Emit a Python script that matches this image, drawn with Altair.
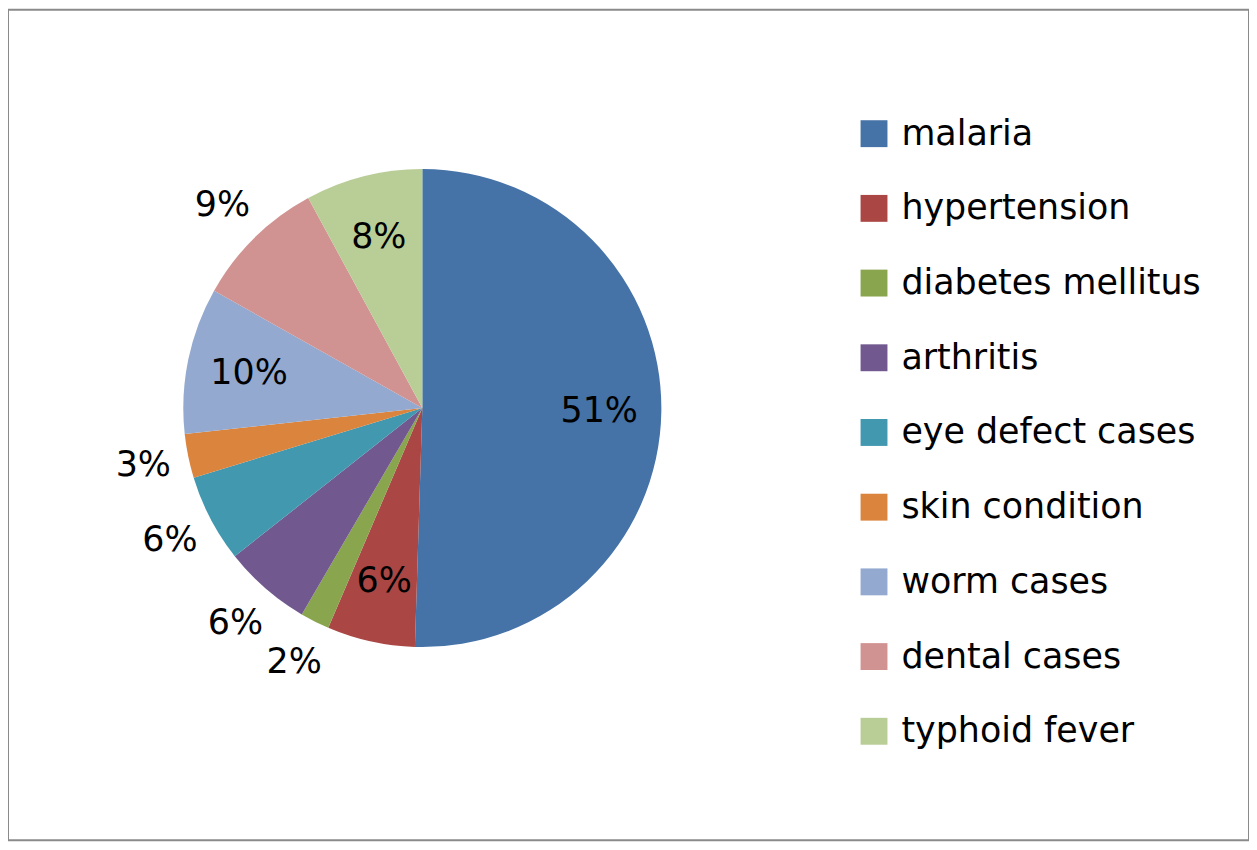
import altair as alt
import pandas as pd

categories = ["malaria", "hypertension", "diabetes mellitus", "arthritis",
              "eye defect cases", "skin condition", "worm cases",
              "dental cases", "typhoid fever"]
values = [51, 6, 2, 6, 6, 3, 10, 9, 8]
colors = ["#4572A7", "#AA4643", "#89A54E", "#71588F", "#4198AF",
          "#DB843D", "#93A9CF", "#D19392", "#B9CD96"]
outside_labels = ["diabetes mellitus", "arthritis", "eye defect cases",
                  "skin condition", "dental cases"]

df = pd.DataFrame({
    "idx": list(range(len(categories))),
    "category": categories,
    "value": values,
})
df["pct"] = df["value"].astype(str) + "%"
df["inside_label"] = [("" if c in outside_labels else p) for c, p in zip(df["category"], df["pct"])]
df["outside_label"] = [(p if c in outside_labels else "") for c, p in zip(df["category"], df["pct"])]

FONT = "DejaVu Sans"
FS = 35
CX, CY, R = 416, 400, 240

base = alt.Chart(df).encode(
    theta=alt.Theta("value:Q", stack=True),
    order=alt.Order("idx:Q"),
    x=alt.value(CX),
    y=alt.value(CY),
)

arcs = base.mark_arc(outerRadius=R).encode(
    color=alt.Color(
        "category:N",
        sort=categories,
        scale=alt.Scale(domain=categories, range=colors),
        legend=alt.Legend(
            title=None,
            orient="none",
            legendX=852,
            legendY=107,
            symbolType="square",
            symbolSize=729,
            symbolStrokeWidth=0,
            labelFontSize=FS,
            labelFont=FONT,
            labelColor="#000000",
            labelOffset=10,
            rowPadding=39,
            labelLimit=400,
        ),
    )
)

inside_text = base.mark_text(radius=R * 0.74, fontSize=FS, font=FONT, color="#000000").encode(
    text="inside_label:N"
)
outside_text = base.mark_text(radius=R + 46, fontSize=FS, font=FONT, color="#000000").encode(
    text="outside_label:N"
)

chart = alt.layer(arcs, inside_text, outside_text).properties(
    width=1246,
    height=834,
    autosize=alt.AutoSizeParams(type="none"),
    padding=0,
).configure_view(
    stroke="#8a8a8a",
    strokeWidth=2,
)

chart.save("out.html", embed_options={"renderer": "svg", "actions": False})
